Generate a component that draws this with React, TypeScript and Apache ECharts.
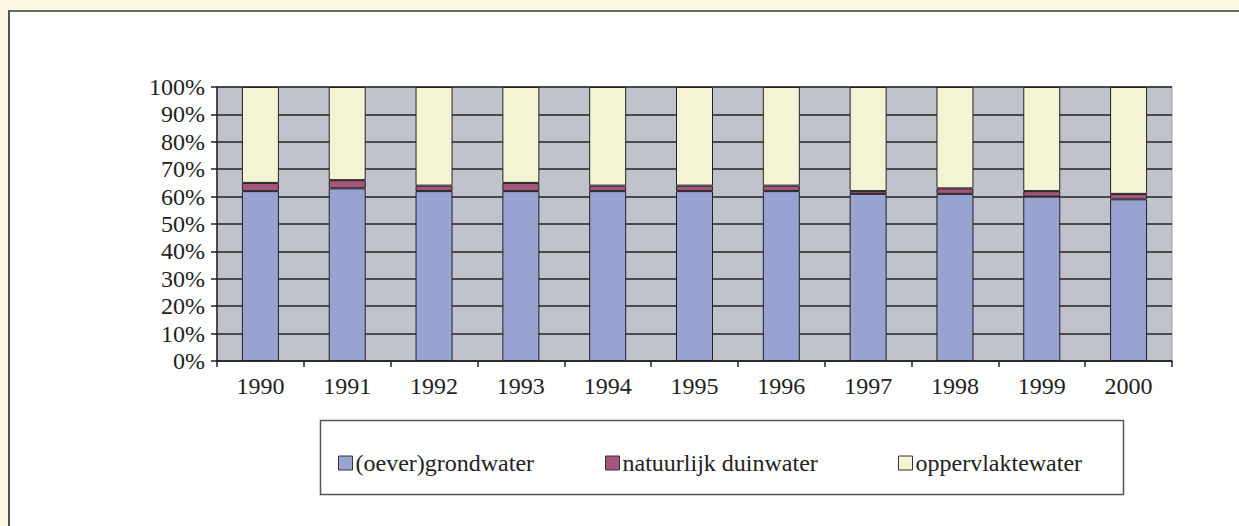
import React, { useEffect, useRef } from "react";
import * as echarts from "echarts";

const years = ["1990", "1991", "1992", "1993", "1994", "1995", "1996", "1997", "1998", "1999", "2000"];
const grondwater = [62, 63, 62, 62, 62, 62, 62, 61, 61, 60, 59];
const duinwater = [3, 3, 2, 3, 2, 2, 2, 1, 2, 2, 2];
const oppervlaktewater = [35, 34, 36, 35, 36, 36, 36, 38, 37, 38, 39];
const seriesNames = ["(oever)grondwater", "natuurlijk duinwater", "oppervlaktewater"];
const seriesColors = ["#99a3d2", "#a3557b", "#f4f3d4"];

const FONT = "Liberation Serif";
const CREAM = "#fcf8e3";

export default function App() {
  const ref = useRef<HTMLDivElement>(null);
  useEffect(() => {
    document.body.style.margin = "0";
    document.body.style.overflow = "hidden";
    document.body.style.background = "#ffffff";
    if (!ref.current) return;
    const chart = echarts.init(ref.current, undefined, { renderer: "svg" });
    const values = [grondwater, duinwater, oppervlaktewater];
    const legendLefts = [333, 600, 893];
    chart.setOption({
      animation: false,
      textStyle: { fontFamily: FONT },
      graphic: [
        { type: "rect", z: -7, shape: { x: 320.5, y: 420.5, width: 803, height: 74 }, style: { fill: "#ffffff", stroke: "#555", lineWidth: 1.5 } },
      ],
      legend: seriesNames.map((n, i) => ({
        data: [n],
        left: legendLefts[i],
        top: 446,
        itemWidth: 14,
        itemHeight: 14,
        itemGap: 0,
        icon: "rect",
        textStyle: { fontFamily: FONT, fontSize: 24, color: "#222", padding: [0, 0, 0, -2] },
        itemStyle: { borderColor: "#333", borderWidth: 1 },
      })),
      grid: {
        left: 217,
        top: 87,
        width: 955,
        height: 274,
        show: true,
        backgroundColor: "#c0c3cb",
        borderColor: "#9a9ea6",
        borderWidth: 1,
      },
      xAxis: {
        type: "category",
        data: years,
        boundaryGap: true,
        axisLine: { lineStyle: { color: "#222", width: 1.5 } },
        axisTick: { show: true, length: 6, lineStyle: { color: "#222", width: 1.5 } },
        axisLabel: { color: "#222", fontSize: 24, fontFamily: FONT, margin: 13, interval: 0 },
        splitLine: { show: false },
      },
      yAxis: {
        type: "value",
        min: 0,
        max: 100,
        interval: 10,
        axisLine: { show: true, lineStyle: { color: "#222", width: 1.5 } },
        axisTick: { show: true, length: 6, lineStyle: { color: "#222", width: 1.5 } },
        axisLabel: { color: "#222", fontSize: 24, fontFamily: FONT, margin: 12, formatter: "{value}%" },
        splitLine: { show: true, lineStyle: { color: "#222", width: 1.5 } },
      },
      series: seriesNames.map((n, i) => ({
        name: n,
        type: "bar",
        stack: "total",
        barWidth: 37,
        data: values[i],
        itemStyle: { color: seriesColors[i], borderColor: "#222", borderWidth: 1 },
      })),
    });
    return () => chart.dispose();
  }, []);
  return (
    <div style={{ position: "fixed", left: 0, top: 0, width: 1239, height: 526, background: "#ffffff", overflow: "hidden" }}>
      <div style={{ position: "absolute", left: 0, top: 0, width: 1239, height: 10, background: CREAM }} />
      <div style={{ position: "absolute", left: 0, top: 0, width: 8, height: 526, background: CREAM }} />
      <div style={{ position: "absolute", left: 8, top: 10, width: 1231, height: 2, background: "#6b6b66" }} />
      <div style={{ position: "absolute", left: 8, top: 10, width: 2, height: 516, background: "#555550" }} />
      <div ref={ref} style={{ position: "absolute", left: 0, top: 0, width: 1239, height: 526 }} />
    </div>
  );
}
